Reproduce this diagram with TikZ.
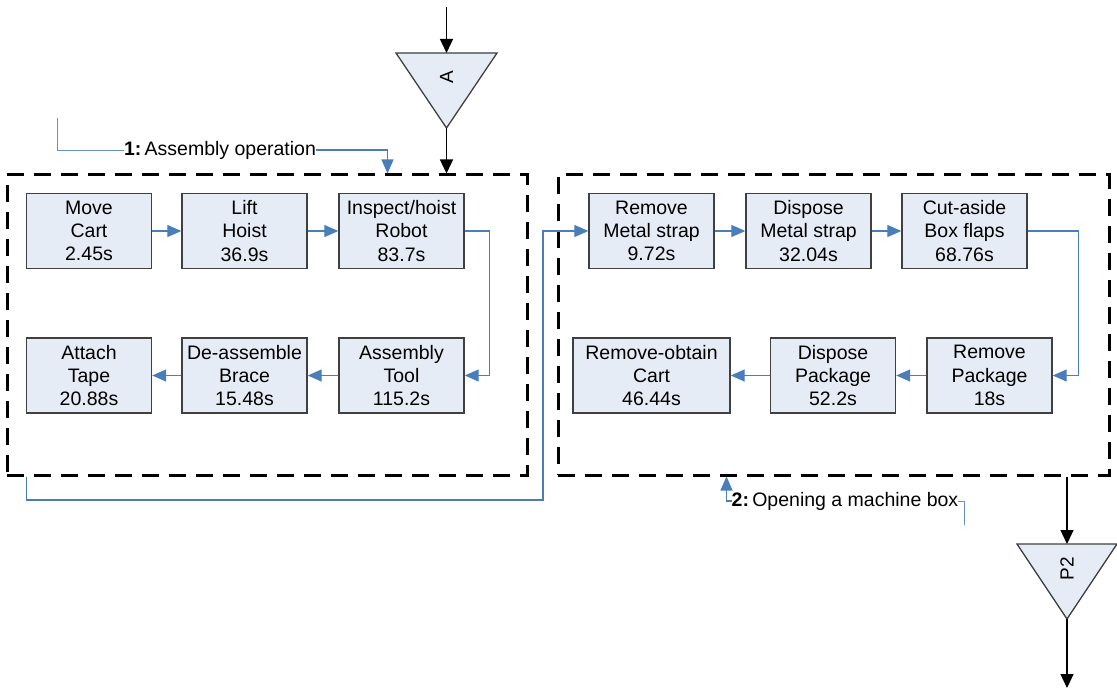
\documentclass[tikz,border=0pt]{standalone}
\usepackage{fontspec}
\setmainfont{Liberation Sans}
\usetikzlibrary{arrows.meta,calc}
\definecolor{boxfill}{HTML}{E6ECF6}
\definecolor{boxline}{HTML}{404040}
\definecolor{flowblue}{HTML}{4A7EBB}
\tikzset{
  stepbox/.style={draw=boxline, line width=1.4pt, fill=boxfill,
    minimum width=125pt, minimum height=75pt, align=center, inner sep=0pt,
    font=\fontsize{19.5}{23.3}\selectfont},
  group/.style={draw=black, line width=3pt, dash pattern=on 17pt off 10pt,
    inner sep=0pt},
  flow/.style={draw=flowblue, line width=1.1pt, -{Triangle[length=14pt,width=12pt]}},
  note/.style={draw=flowblue!85, line width=0.9pt},
  blk/.style={draw=black, line width=1.3pt, -{Triangle[length=14pt,width=13pt]}},
  tri/.style={draw=boxline, line width=1.3pt, fill=boxfill},
  lbl/.style={inner sep=0pt, font=\fontsize{19.5}{23.3}\selectfont},
  symb/.style={inner sep=0pt, rotate=90, font=\fontsize{19}{22}\selectfont}
}
\begin{document}
\begin{tikzpicture}[x=1pt,y=-1pt]
\useasboundingbox (0,0) rectangle (1117,690);

% the two process groups
\node[group, minimum width=520pt, minimum height=300pt] (c1) at (267,325) {};
\node[group, minimum width=551pt, minimum height=300pt] (c2) at (833.5,325) {};

% group 1: assembly operation
\node[stepbox] (a1) at (89,231)    {Move\\Cart\\2.45s};
\node[stepbox] (a2) at (244.5,231) {Lift\\Hoist\\36.9s};
\node[stepbox] (a3) at (401.5,231) {Inspect/hoist\\Robot\\83.7s};
\node[stepbox] (a4) at (401.5,375.5) {Assembly\\Tool\\115.2s};
\node[stepbox] (a5) at (244.5,375.5) {De-assemble\\Brace\\15.48s};
\node[stepbox] (a6) at (89,375.5)    {Attach\\Tape\\20.88s};

% group 2: opening a machine box
\node[stepbox] (b1) at (651.5,231) {Remove\\Metal strap\\9.72s};
\node[stepbox] (b2) at (808.5,231) {Dispose\\Metal strap\\32.04s};
\node[stepbox] (b3) at (964.5,231) {Cut-aside\\Box flaps\\68.76s};
\node[stepbox] (b4) at (989.5,375.5) {Remove\\Package\\18s};
\node[stepbox] (b5) at (833,375.5)   {Dispose\\Package\\52.2s};
\node[stepbox, minimum width=157pt] (b6) at (651.5,375.5) {Remove-obtain\\Cart\\46.44s};

% flow inside group 1
\draw[flow] (a1) -- (a2);
\draw[flow] (a2) -- (a3);
\draw[flow] (a3.east) -- ++(25,0) |- (a4.east);
\draw[flow] (a4) -- (a5);
\draw[flow] (a5) -- (a6);

% flow inside group 2
\draw[flow] (b1) -- (b2);
\draw[flow] (b2) -- (b3);
\draw[flow] (b3.east) -- ++(51,0) |- (b4.east);
\draw[flow] (b4) -- (b5);
\draw[flow] (b5) -- (b6);

% group 1 hands over to group 2
\coordinate (hand) at (543,500);
\draw[flow] ([xshift=21pt]c1.south west) |- (hand) |- (b1.west);

% inventory symbol A
\path[tri] (396,53) -- (497,53) -- (446.5,128) -- cycle;
\coordinate (Atop) at (446.5,53);
\coordinate (Abot) at (446.5,128);
\node[symb] (A) at (446.5,77) {A};
\coordinate (Ain) at (446.5,7);
\draw[blk] (Ain) -- (Atop);
\draw[blk] (Abot) -- (Abot |- c1.north);

% inventory symbol P2
\path[tri] (1017,544) -- (1117,544) -- (1067,619) -- cycle;
\coordinate (Ptop) at (1067,544);
\coordinate (Pbot) at (1067,619);
\node[symb] (P2) at (1067,569) {P2};
\coordinate (Pout) at (1067,688);
\draw[blk] (Ptop |- c2.south) -- (Ptop);
\draw[blk] (Pbot) -- (Pout);

% group captions
\node[lbl] (L1) at (220,150) {\textbf{1:}\,Assembly operation};
\coordinate (L1a) at (57,118);
\draw[note] (L1a) |- (L1.west);
\draw[flow] (L1.east) -| ([xshift=382pt]c1.north west);

\node[lbl] (L2) at (845,501) {\textbf{2:}\,Opening a machine box};
\coordinate (L2b) at (964,525);
\draw[note] (L2.east) -| (L2b);
\draw[flow] (L2.west) -| ([xshift=170pt]c2.south west);
\end{tikzpicture}
\end{document}
